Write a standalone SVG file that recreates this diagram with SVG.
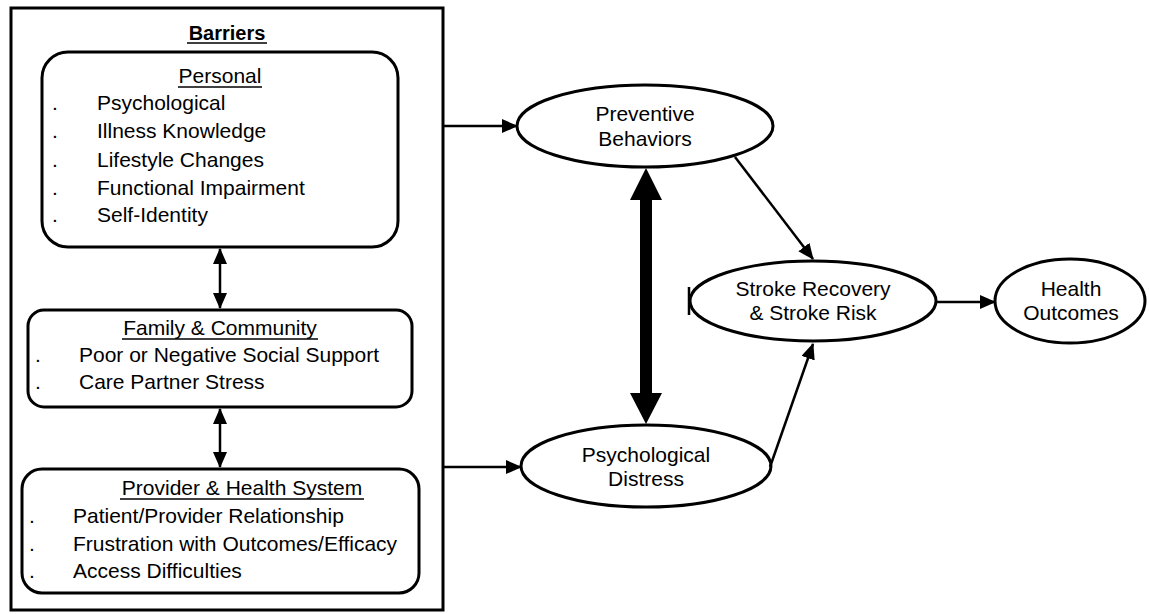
<svg xmlns="http://www.w3.org/2000/svg" width="1150" height="614" viewBox="0 0 1150 614">
<defs>
<style>
text{font-family:"Liberation Sans",Arial,sans-serif;fill:#000}
.t{font-size:21px}
.e{font-size:21px;text-anchor:middle}
.h{font-size:21px;text-anchor:middle}
.box{fill:#fff;stroke:#000;stroke-width:3}
.ln{stroke:#000;stroke-width:2.5;fill:none}
.ul{stroke:#000;stroke-width:1.5}
</style>
<marker id="ah" markerUnits="userSpaceOnUse" markerWidth="16" markerHeight="14" refX="15" refY="7" orient="auto-start-reverse" viewBox="0 0 16 14">
<path d="M0,0 L16,7 L0,14 Z" fill="#000"/>
</marker>
</defs>
<rect x="0" y="0" width="1150" height="614" fill="#fff"/>
<g id="barriers">
<rect x="11" y="8" width="432" height="602" fill="#fff" stroke="#000" stroke-width="3"/>
<text x="227" y="40" font-size="20" font-weight="bold" text-anchor="middle">Barriers</text>
<line class="ul" x1="187" y1="43" x2="267" y2="43"/>
</g>
<g id="personal">
<rect class="box" x="42" y="52" width="356" height="195" rx="26"/>
<text class="h" x="220" y="83">Personal</text>
<line class="ul" x1="178" y1="87" x2="262" y2="87"/>
<text class="t" x="52" y="110">.</text><text class="t" x="97" y="110">Psychological</text>
<text class="t" x="52" y="138">.</text><text class="t" x="97" y="138">Illness Knowledge</text>
<text class="t" x="52" y="167">.</text><text class="t" x="97" y="167">Lifestyle Changes</text>
<text class="t" x="52" y="195">.</text><text class="t" x="97" y="195">Functional Impairment</text>
<text class="t" x="52" y="222">.</text><text class="t" x="97" y="222">Self-Identity</text>
</g>
<g id="family">
<rect class="box" x="28" y="310" width="384" height="97" rx="16"/>
<text class="h" x="220" y="335">Family &amp; Community</text>
<line class="ul" x1="122" y1="339" x2="318" y2="339"/>
<text class="t" x="35" y="362">.</text><text class="t" x="79" y="362">Poor or Negative Social Support</text>
<text class="t" x="35" y="389">.</text><text class="t" x="79" y="389">Care Partner Stress</text>
</g>
<g id="provider">
<rect class="box" x="22" y="469" width="397" height="124" rx="20"/>
<text class="h" x="242" y="495">Provider &amp; Health System</text>
<line class="ul" x1="120" y1="499" x2="364" y2="499"/>
<text class="t" x="29" y="523">.</text><text class="t" x="73" y="523">Patient/Provider Relationship</text>
<text class="t" x="29" y="551">.</text><text class="t" x="73" y="551">Frustration with Outcomes/Efficacy</text>
<text class="t" x="29" y="578">.</text><text class="t" x="73" y="578">Access Difficulties</text>
</g>
<g id="preventive">
<ellipse class="box" cx="645" cy="126" rx="128" ry="41"/>
<text class="e" x="645" y="121">Preventive</text>
<text class="e" x="645" y="146">Behaviors</text>
</g>
<g id="distress">
<ellipse class="box" cx="646" cy="466" rx="125" ry="41"/>
<text class="e" x="646" y="462">Psychological</text>
<text class="e" x="646" y="486">Distress</text>
</g>
<g id="stroke">
<ellipse class="box" cx="813" cy="301" rx="123" ry="40"/>
<line x1="689" y1="287" x2="689" y2="315" stroke="#000" stroke-width="2.5"/>
<text class="e" x="813" y="296">Stroke Recovery</text>
<text class="e" x="813" y="320">&amp; Stroke Risk</text>
</g>
<g id="health">
<ellipse class="box" cx="1070" cy="301" rx="75" ry="42"/>
<text class="e" x="1071" y="296">Health</text>
<text class="e" x="1071" y="320">Outcomes</text>
</g>
<g id="connectors">
<line class="ln" x1="220" y1="249" x2="220" y2="308" marker-start="url(#ah)" marker-end="url(#ah)"/>
<line class="ln" x1="220" y1="409" x2="220" y2="467" marker-start="url(#ah)" marker-end="url(#ah)"/>
<line class="ln" x1="443" y1="126" x2="517" y2="126" marker-end="url(#ah)"/>
<line class="ln" x1="443" y1="467" x2="521" y2="467" marker-end="url(#ah)"/>
<polygon points="646,168 662,200 652,200 652,393 662,393 646,424 630,393 640,393 640,200 630,200" fill="#000"/>
<line class="ln" x1="735" y1="157" x2="813" y2="259" marker-end="url(#ah)"/>
<line class="ln" x1="770" y1="467" x2="813" y2="344" marker-end="url(#ah)"/>
<line class="ln" x1="937" y1="302" x2="995" y2="302" marker-end="url(#ah)"/>
</g>
</svg>
